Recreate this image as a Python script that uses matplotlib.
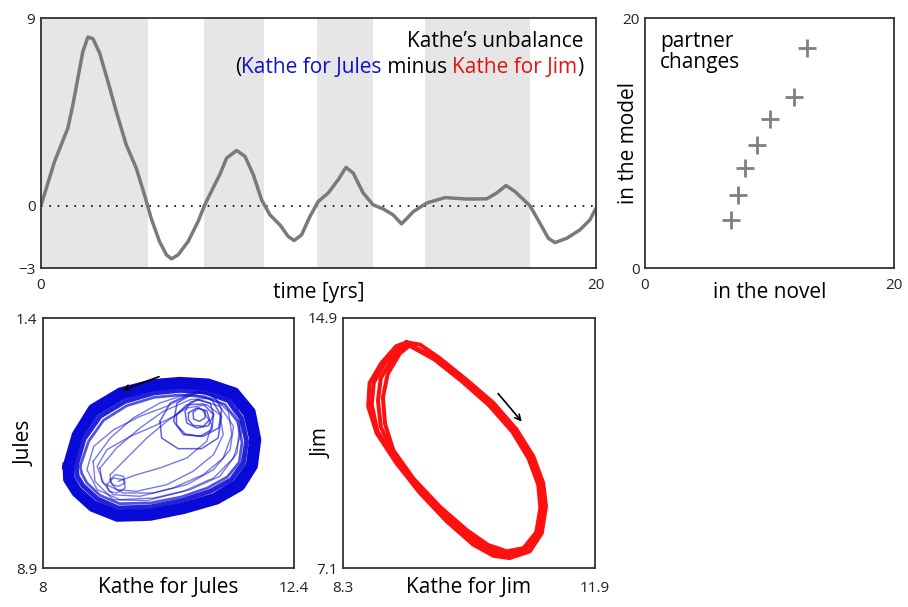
import matplotlib
matplotlib.use("Agg")
import matplotlib.pyplot as plt
from matplotlib.offsetbox import TextArea, HPacker, VPacker, AnchoredOffsetbox

plt.rcParams['font.family'] = ['Open Sans', 'DejaVu Sans']

# ---------------------------------------------------------------------------
# Data
# ---------------------------------------------------------------------------
# Kathe's unbalance over time
t_yrs = [0, 0.49, 0.97, 1.15, 1.33, 1.51, 1.69, 1.87, 2.11, 2.41, 2.71, 3.07,
         3.43, 3.73, 3.97, 4.27, 4.52, 4.70, 4.94, 5.30, 5.66, 5.90, 6.26,
         6.45, 6.69, 7.05, 7.35, 7.65, 7.95, 8.25, 8.61, 8.91, 9.12, 9.39,
         9.69, 9.99, 10.35, 10.71, 10.99, 11.25, 11.61, 11.97, 12.34, 12.69,
         12.99, 13.20, 13.42, 13.90, 14.56, 15.34, 16.06, 16.42, 16.76, 17.08,
         17.62, 17.98, 18.28, 18.52, 18.95, 19.42, 19.78, 20]
unbalance = [0, 2.12, 3.72, 4.84, 6.12, 7.40, 8.08, 8.01, 7.33, 5.96, 4.52, 2.92,
             1.80, 0.51, -0.61, -1.73, -2.37, -2.56, -2.37, -1.73, -0.77, 0.03, 1.0,
             1.50, 2.28, 2.64, 2.36, 1.48, 0.27, -0.45, -0.93, -1.49, -1.68, -1.41,
             -0.53, 0.19, 0.60, 1.24, 1.83, 1.56, 0.60, 0.03, -0.17, -0.45,
             -0.88, -0.60, -0.29, 0.12, 0.38, 0.31, 0.32, 0.60, 0.96, 0.67,
             -0.01, -0.85, -1.57, -1.78, -1.57, -1.17, -0.69, -0.13]
# grey bands
band_start = [0, 5.88, 9.94, 13.85]
band_end   = [3.86, 8.03, 11.98, 17.62]

# partner changes: novel vs model
novel = [6.93, 7.47, 8.0, 9.0, 10.0, 12.0, 13.0]
model = [3.86, 5.85, 8.0, 9.87, 11.9, 13.7, 17.6]

# Kathe-Jules portrait: outer band strands (outermost first)
kj_band = [
    ([8.41, 8.57, 8.86, 9.35, 9.91, 10.40, 10.90, 11.37, 11.66, 11.76, 11.70,
      11.47, 11.05, 10.46, 9.88, 9.30, 8.86, 8.57, 8.42],
     [5.85, 4.90, 4.10, 3.60, 3.35, 3.28, 3.33, 3.60, 4.20, 5.05, 5.85,
      6.47, 6.88, 7.17, 7.37, 7.40, 7.10, 6.65, 6.25]),
    ([8.49, 8.64, 8.93, 9.40, 9.93, 10.40, 10.87, 11.31, 11.57, 11.67, 11.61,
      11.38, 10.99, 10.45, 9.88, 9.31, 8.90, 8.62, 8.50],
     [5.85, 4.95, 4.23, 3.75, 3.50, 3.43, 3.48, 3.75, 4.30, 5.05, 5.80,
      6.35, 6.75, 7.03, 7.22, 7.25, 6.97, 6.55, 6.20]),
    ([8.58, 8.72, 9.00, 9.44, 9.94, 10.40, 10.84, 11.25, 11.48, 11.57, 11.51,
      11.30, 10.93, 10.43, 9.88, 9.32, 8.96, 8.70, 8.60],
     [5.85, 5.03, 4.35, 3.90, 3.65, 3.57, 3.62, 3.88, 4.40, 5.10, 5.75,
      6.25, 6.60, 6.88, 7.07, 7.10, 6.83, 6.43, 6.15]),
    ([8.65, 8.80, 9.06, 9.47, 9.95, 10.40, 10.82, 11.19, 11.41, 11.49, 11.44,
      11.23, 10.88, 10.42, 9.88, 9.34, 9.00, 8.77, 8.68],
     [5.85, 5.10, 4.47, 4.03, 3.78, 3.71, 3.76, 4.00, 4.50, 5.13, 5.73,
      6.17, 6.50, 6.77, 6.95, 6.97, 6.72, 6.35, 6.07]),
]
# Kathe-Jules portrait: inner orbits
kj_inner = [
    ([10.70, 11.10, 11.34, 11.28, 10.99, 10.52, 9.94, 9.41, 9.06, 8.95, 9.12,
      9.53, 9.94, 10.29, 10.52],
     [3.85, 4.05, 4.65, 5.35, 5.95, 6.40, 6.65, 6.65, 6.35, 5.85, 5.35,
      4.95, 4.65, 4.35, 4.05]),
    ([10.75, 11.22, 11.45, 11.40, 11.10, 10.58, 9.94, 9.35, 8.95, 8.77, 8.89,
      9.24, 9.70, 10.17, 10.52],
     [3.65, 3.85, 4.55, 5.45, 6.15, 6.55, 6.80, 6.85, 6.55, 5.95, 5.25,
      4.75, 4.35, 4.05, 3.75]),
    ([9.18, 9.47, 9.82, 10.17, 10.52, 10.87, 11.10, 11.16, 10.99, 10.63, 10.17,
      9.64, 9.29, 9.18],
     [6.10, 5.60, 5.00, 4.50, 4.10, 4.00, 4.30, 4.90, 5.50, 6.00, 6.40,
      6.60, 6.55, 6.30]),
    ([9.00, 9.29, 9.70, 10.11, 10.58, 10.99, 11.25, 11.31, 11.16, 10.81, 10.28,
      9.70, 9.23, 9.03],
     [5.90, 5.30, 4.70, 4.20, 3.85, 3.80, 4.20, 4.90, 5.60, 6.10, 6.50,
      6.75, 6.70, 6.30]),
    ([8.88, 9.18, 9.58, 10.05, 10.58, 11.04, 11.39, 11.48, 11.34, 10.99, 10.46,
      9.82, 9.23, 8.91],
     [5.70, 5.00, 4.40, 3.95, 3.65, 3.60, 4.00, 4.80, 5.60, 6.20, 6.60,
      6.88, 6.85, 6.30]),
    ([9.12, 9.23, 9.41, 9.44, 9.29, 9.15],
     [6.40, 6.20, 6.25, 6.50, 6.65, 6.60]),
    ([9.18, 9.27, 9.41, 9.44, 9.32, 9.21],
     [6.25, 6.10, 6.15, 6.35, 6.45, 6.40]),
]
# open transit strand from lower left into the spiral
kj_transit_x = [9.32, 9.64, 10.05, 10.52, 10.87, 10.96, 10.81]
kj_transit_y = [6.30, 6.10, 5.90, 5.60, 5.10, 4.60, 4.20]
# spiral around the focus (largest first)
kj_spiral = [
    ([10.05, 10.23, 10.58, 10.96, 11.13, 11.07, 10.78, 10.37, 10.08],
     [4.50, 3.95, 3.68, 3.85, 4.35, 5.00, 5.32, 5.32, 5.00]),
    ([10.70, 10.99, 11.13, 11.08, 10.81, 10.46, 10.29, 10.35],
     [3.60, 3.70, 4.15, 4.70, 4.95, 4.90, 4.50, 3.95]),
    ([10.34, 10.52, 10.81, 10.99, 10.96, 10.75, 10.49, 10.34],
     [4.30, 4.00, 3.98, 4.30, 4.75, 4.95, 4.88, 4.60]),
    ([10.73, 10.93, 10.99, 10.90, 10.70, 10.52, 10.49, 10.58],
     [3.85, 3.95, 4.30, 4.63, 4.70, 4.55, 4.20, 3.93]),
    ([10.55, 10.69, 10.87, 10.92, 10.81, 10.63, 10.55],
     [4.25, 4.10, 4.18, 4.45, 4.65, 4.62, 4.45]),
    ([10.73, 10.84, 10.84, 10.74, 10.64, 10.63],
     [4.10, 4.20, 4.40, 4.50, 4.43, 4.23]),
]

# Kathe-Jim portrait: strands of the limit cycle (outermost first)
kjim_loops = [
    ([9.21, 9.40, 9.68, 10.06, 10.45, 10.78, 11.02, 11.16, 11.20, 11.14, 10.97,
      10.68, 10.45, 10.16, 9.78, 9.40, 9.06, 8.78, 8.66, 8.68, 8.85, 9.06],
     [14.14, 14.07, 13.65, 12.98, 12.25, 11.42, 10.58, 9.75, 9.02, 8.19, 7.62,
      7.41, 7.48, 7.83, 8.56, 9.44, 10.38, 11.31, 12.14, 12.87, 13.50, 14.02]),
    ([9.23, 9.65, 10.04, 10.42, 10.75, 10.98, 11.13, 11.16, 11.10, 10.91, 10.66,
      10.41, 10.12, 9.74, 9.36, 9.04, 8.79, 8.71, 8.74, 8.90, 9.07],
     [14.09, 13.62, 12.96, 12.22, 11.39, 10.56, 9.73, 9.00, 8.20, 7.66, 7.48,
      7.59, 7.96, 8.69, 9.56, 10.48, 11.38, 12.20, 12.89, 13.50, 13.95]),
    ([9.24, 9.63, 10.02, 10.40, 10.73, 10.97, 11.11, 11.14, 11.08, 10.90, 10.65,
      10.39, 10.10, 9.72, 9.33, 9.03, 8.84, 8.80, 8.84, 9.01, 9.10],
     [14.06, 13.60, 12.93, 12.20, 11.37, 10.54, 9.71, 8.98, 8.20, 7.69, 7.55,
      7.70, 8.12, 8.85, 9.72, 10.63, 11.50, 12.32, 13.03, 13.64, 13.87]),
    ([9.25, 9.61, 10.00, 10.38, 10.72, 10.95, 11.09, 11.12, 11.06, 10.88, 10.64,
      10.37, 10.07, 9.69, 9.31, 9.02, 8.90, 8.87, 8.94, 9.11],
     [14.04, 13.60, 12.92, 12.19, 11.35, 10.52, 9.70, 8.97, 8.21, 7.72, 7.62,
      7.82, 8.28, 9.00, 9.88, 10.77, 11.60, 12.43, 13.16, 13.79]),
]

# direction arrows (tail -> head)
kj_arrow = ((10.08, 3.13), (9.34, 3.60))
kjim_arrow = ((10.49, 12.61), (10.88, 11.60))

GREY_LINE = "#7a7a7a"
BAND = "#e6e6e6"
BLUE = "#0a0ad8"
RED = "#ff1010"
TICK_FS = 11
LAB_FS = 15


def closed(xs, ys):
    return list(xs) + [xs[0]], list(ys) + [ys[0]]


def style_box(ax, xpad=7):
    for s in ax.spines.values():
        s.set_linewidth(1.3)
        s.set_color("#333333")
    ax.tick_params(length=0, labelsize=TICK_FS, colors="#222222", pad=4)
    ax.tick_params(axis="x", pad=xpad)


fig = plt.figure(figsize=(9.08, 6.07), dpi=100)

# ---------------------------------------------------------------------------
# Time series
# ---------------------------------------------------------------------------
ax1 = fig.add_axes([41 / 908, 1 - 268 / 607, 555 / 908, 250 / 607])
for a, b in zip(band_start, band_end):
    ax1.axvspan(a, b, color=BAND, lw=0, zorder=0)
ax1.axhline(0, color="black", ls=(0, (1, 4)), lw=1.2, zorder=1)
ax1.plot(t_yrs, unbalance, color=GREY_LINE, lw=2.5, zorder=2,
         solid_joinstyle="round", solid_capstyle="round")
ax1.set_xlim(0, 20)
ax1.set_ylim(-3, 9)
ax1.set_xticks([0, 20])
ax1.set_yticks([-3, 0, 9])
ax1.set_yticklabels(["\u22123", "0", "9"])
style_box(ax1)
ax1.set_xlabel("time [yrs]", fontsize=LAB_FS, labelpad=-8)

l1 = TextArea("Kathe\u2019s unbalance", textprops=dict(fontsize=LAB_FS, color="black"))
parts = [("(", "black"), ("Kathe for Jules", "#1010d0"), (" minus ", "black"),
         ("Kathe for Jim", "#e81010"), (")", "black")]
l2 = HPacker(children=[TextArea(s, textprops=dict(fontsize=LAB_FS, color=c))
                       for s, c in parts], pad=0, sep=0)
title_box = AnchoredOffsetbox(loc="upper right",
                              child=VPacker(children=[l1, l2], align="right", pad=0, sep=4),
                              frameon=False, pad=0.3, borderpad=0.6)
ax1.add_artist(title_box)

# ---------------------------------------------------------------------------
# Partner changes
# ---------------------------------------------------------------------------
ax2 = fig.add_axes([645 / 908, 1 - 268 / 607, 249 / 908, 250 / 607])
ax2.plot(novel, model, ls="none", marker="+", ms=13, mew=2, color="#808080")
ax2.set_xlim(0, 20)
ax2.set_ylim(0, 20)
ax2.set_xticks([0, 20])
ax2.set_yticks([0, 20])
style_box(ax2)
ax2.set_xlabel("in the novel", fontsize=LAB_FS, labelpad=-8)
ax2.set_ylabel("in the model", fontsize=LAB_FS, labelpad=-12)
ax2.text(0.06, 0.95, "partner\nchanges", transform=ax2.transAxes, fontsize=LAB_FS,
         va="top", ha="left", linespacing=1.05)

# ---------------------------------------------------------------------------
# Kathe-Jules portrait
# ---------------------------------------------------------------------------
ax3 = fig.add_axes([43 / 908, 1 - 568 / 607, 251 / 908, 250 / 607])
for xs, ys in kj_inner:
    cx, cy = closed(xs, ys)
    ax3.plot(cx, cy, color=BLUE, lw=1.0, alpha=0.55, solid_joinstyle="round")
ax3.plot(kj_transit_x, kj_transit_y, color=BLUE, lw=1.0, alpha=0.55)
for xs, ys in kj_spiral:
    cx, cy = closed(xs, ys)
    ax3.plot(cx, cy, color=BLUE, lw=1.1, alpha=0.65, solid_joinstyle="round")
for (xs, ys), lw, al in zip(kj_band, [5.5, 4.5, 3.5, 2.0], [1, 1, 0.9, 0.7]):
    cx, cy = closed(xs, ys)
    ax3.plot(cx, cy, color=BLUE, lw=lw, alpha=al, solid_joinstyle="round")
ax3.annotate("", xy=kj_arrow[1], xytext=kj_arrow[0],
             arrowprops=dict(arrowstyle="->", color="black", lw=1.2))
ax3.set_xlim(8, 12.4)
ax3.set_ylim(8.9, 1.4)
ax3.set_xticks([8, 12.4])
ax3.set_xticklabels(["8", "12.4"])
ax3.set_yticks([8.9, 1.4])
ax3.set_yticklabels(["8.9", "1.4"])
style_box(ax3, xpad=9)
ax3.set_xlabel("Kathe for Jules", fontsize=LAB_FS, labelpad=-13)
ax3.set_ylabel("Jules", fontsize=LAB_FS, labelpad=-14)

# ---------------------------------------------------------------------------
# Kathe-Jim portrait
# ---------------------------------------------------------------------------
ax4 = fig.add_axes([343 / 908, 1 - 568 / 607, 252 / 908, 250 / 607])
for xs, ys in kjim_loops:
    cx, cy = closed(xs, ys)
    ax4.plot(cx, cy, color=RED, lw=2.9, solid_joinstyle="round")
ax4.annotate("", xy=kjim_arrow[1], xytext=kjim_arrow[0],
             arrowprops=dict(arrowstyle="->", color="black", lw=1.2))
ax4.set_xlim(8.3, 11.9)
ax4.set_ylim(7.1, 14.9)
ax4.set_xticks([8.3, 11.9])
ax4.set_yticks([7.1, 14.9])
style_box(ax4, xpad=9)
ax4.set_xlabel("Kathe for Jim", fontsize=LAB_FS, labelpad=-13)
ax4.set_ylabel("Jim", fontsize=LAB_FS, labelpad=-18)

fig.savefig("out.png", dpi=100)
